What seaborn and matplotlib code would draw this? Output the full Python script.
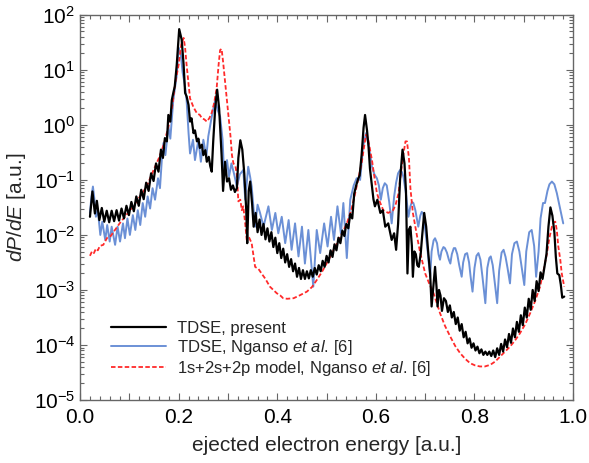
import numpy as np
import pandas as pd
import seaborn as sns
import matplotlib
matplotlib.use("Agg")
import matplotlib.pyplot as plt
from matplotlib.ticker import LogLocator, MultipleLocator, NullFormatter, FuncFormatter

# ---- data: energy (a.u.) and log10(dP/dE) ----
energy_present = [0.020, 0.025, 0.030, 0.034, 0.039, 0.044, 0.049, 0.054, 0.059, 0.064,
                  0.069, 0.074, 0.079, 0.084, 0.089, 0.094, 0.099, 0.104, 0.109, 0.114,
                  0.119, 0.124, 0.129, 0.134, 0.139, 0.144, 0.149, 0.154, 0.159, 0.164,
                  0.168, 0.172, 0.176, 0.179, 0.183, 0.186, 0.189, 0.192, 0.196, 0.201,
                  0.206, 0.210, 0.213, 0.216, 0.220, 0.223, 0.226, 0.230, 0.233, 0.237,
                  0.240, 0.243, 0.247, 0.250, 0.254, 0.257, 0.261, 0.264, 0.267, 0.270,
                  0.274, 0.278, 0.282, 0.285, 0.287, 0.290, 0.294, 0.298, 0.302, 0.306,
                  0.310, 0.314, 0.318, 0.321, 0.325, 0.329, 0.333, 0.337, 0.339, 0.342,
                  0.345, 0.349, 0.352, 0.356, 0.360, 0.364, 0.368, 0.372, 0.376, 0.380,
                  0.384, 0.388, 0.392, 0.396, 0.400, 0.404, 0.408, 0.412, 0.416, 0.420,
                  0.424, 0.428, 0.432, 0.436, 0.440, 0.444, 0.448, 0.452, 0.456, 0.460,
                  0.464, 0.468, 0.472, 0.476, 0.480, 0.484, 0.488, 0.492, 0.496, 0.500,
                  0.504, 0.508, 0.512, 0.516, 0.520, 0.524, 0.528, 0.532, 0.536, 0.540,
                  0.544, 0.548, 0.552, 0.556, 0.560, 0.564, 0.567, 0.571, 0.575, 0.578,
                  0.582, 0.585, 0.588, 0.592, 0.595, 0.598, 0.603, 0.609, 0.614, 0.619,
                  0.625, 0.632, 0.637, 0.641, 0.645, 0.649, 0.654, 0.658, 0.661, 0.664,
                  0.667, 0.670, 0.673, 0.675, 0.678, 0.681, 0.684, 0.687, 0.691, 0.694,
                  0.698, 0.702, 0.706, 0.710, 0.713, 0.716, 0.720, 0.723, 0.725, 0.728,
                  0.731, 0.734, 0.738, 0.742, 0.746, 0.750, 0.754, 0.758, 0.762, 0.766,
                  0.770, 0.774, 0.778, 0.782, 0.786, 0.790, 0.794, 0.798, 0.802, 0.806,
                  0.810, 0.814, 0.818, 0.822, 0.826, 0.830, 0.834, 0.838, 0.842, 0.846,
                  0.850, 0.854, 0.858, 0.862, 0.866, 0.870, 0.874, 0.878, 0.882, 0.886,
                  0.890, 0.894, 0.898, 0.902, 0.906, 0.910, 0.914, 0.918, 0.922, 0.926,
                  0.930, 0.934, 0.938, 0.942, 0.946, 0.950, 0.954, 0.958, 0.962, 0.965,
                  0.968, 0.972, 0.975, 0.978, 0.982]
log_present = [-1.67, -1.21, -1.61, -1.38, -1.73, -1.51, -1.76, -1.56, -1.77, -1.56,
               -1.75, -1.55, -1.74, -1.52, -1.70, -1.47, -1.64, -1.40, -1.57, -1.30,
               -1.47, -1.18, -1.35, -1.05, -1.20, -0.88, -1.02, -0.70, -0.85, -0.45,
               -0.60, -0.24, -0.30, 0.18, 0.06, 0.45, 0.58, 0.70, 1.09, 1.74,
               1.55, 1.09, 0.58, 0.52, 0.36, 0.06, 0.12, -0.15, -0.10, -0.30,
               -0.25, -0.42, -0.36, -0.55, -0.46, -0.67, -0.58, -0.75, -0.85, -0.30,
               0.30, 0.64, 0.30, -0.20, -0.55, -1.20, -0.67, -1.03, -0.97, -1.18,
               -1.10, -1.22, -1.15, -0.60, -0.28, -0.45, -0.88, -1.55, -2.15, -1.20,
               -1.03, -1.45, -1.85, -1.60, -1.95, -1.72, -2.00, -1.80, -2.08, -1.88,
               -2.12, -1.95, -2.22, -2.05, -2.33, -2.15, -2.42, -2.25, -2.50, -2.35,
               -2.58, -2.44, -2.66, -2.52, -2.76, -2.60, -2.80, -2.64, -2.80, -2.66,
               -2.79, -2.64, -2.76, -2.60, -2.72, -2.55, -2.66, -2.47, -2.58, -2.38,
               -2.50, -2.28, -2.40, -2.17, -2.28, -2.05, -2.15, -1.92, -2.02, -1.80,
               -1.88, -1.62, -1.70, -1.25, -1.10, -0.98, -0.92, -0.55, -0.05, 0.18,
               -0.10, -0.39, -0.80, -1.12, -1.35, -1.48, -1.36, -1.60, -1.55, -1.85,
               -1.79, -2.09, -1.97, -2.27, -1.80, -1.00, -0.45, -0.70, -1.20, -2.70,
               -1.90, -1.85, -2.20, -2.76, -2.30, -2.35, -2.55, -2.58, -2.33, -2.00,
               -1.60, -1.85, -2.30, -2.70, -3.30, -3.00, -2.58, -2.95, -3.30, -3.00,
               -3.10, -3.38, -3.15, -3.20, -3.40, -3.28, -3.50, -3.40, -3.62, -3.50,
               -3.74, -3.62, -3.86, -3.76, -3.97, -3.88, -4.05, -3.97, -4.10, -4.03,
               -4.15, -4.08, -4.18, -4.12, -4.18, -4.12, -4.20, -4.10, -4.22, -4.06,
               -4.18, -3.98, -4.12, -3.90, -4.04, -3.80, -3.96, -3.70, -3.86, -3.58,
               -3.76, -3.46, -3.64, -3.32, -3.50, -3.16, -3.36, -3.00, -3.20, -2.84,
               -3.02, -2.68, -2.80, -2.58, -2.35, -1.85, -1.50, -1.65, -1.95, -2.40,
               -2.70, -2.73, -2.90, -3.14, -3.12]

energy_nganso = [0.020, 0.023, 0.026, 0.029, 0.032, 0.036, 0.041, 0.045, 0.051, 0.055,
                 0.060, 0.064, 0.071, 0.076, 0.081, 0.087, 0.091, 0.096, 0.101, 0.107,
                 0.112, 0.117, 0.122, 0.127, 0.132, 0.137, 0.142, 0.147, 0.152, 0.158,
                 0.162, 0.166, 0.169, 0.173, 0.179, 0.183, 0.189, 0.196, 0.200, 0.204,
                 0.208, 0.212, 0.216, 0.220, 0.223, 0.229, 0.233, 0.240, 0.245, 0.250,
                 0.256, 0.260, 0.267, 0.274, 0.279, 0.284, 0.289, 0.292, 0.298, 0.302,
                 0.307, 0.312, 0.318, 0.324, 0.331, 0.335, 0.341, 0.345, 0.348, 0.355,
                 0.360, 0.365, 0.372, 0.382, 0.389, 0.396, 0.402, 0.409, 0.416, 0.423,
                 0.429, 0.436, 0.443, 0.450, 0.456, 0.463, 0.473, 0.480, 0.487, 0.495,
                 0.502, 0.509, 0.515, 0.522, 0.529, 0.534, 0.541, 0.548, 0.555, 0.561,
                 0.568, 0.574, 0.580, 0.586, 0.592, 0.597, 0.602, 0.606, 0.610, 0.614,
                 0.618, 0.622, 0.627, 0.632, 0.637, 0.641, 0.645, 0.649, 0.653, 0.656,
                 0.661, 0.666, 0.670, 0.673, 0.676, 0.680, 0.686, 0.690, 0.693, 0.696,
                 0.700, 0.705, 0.710, 0.713, 0.717, 0.720, 0.724, 0.727, 0.730, 0.733,
                 0.737, 0.740, 0.744, 0.748, 0.751, 0.754, 0.758, 0.761, 0.765, 0.769,
                 0.774, 0.777, 0.781, 0.785, 0.789, 0.792, 0.796, 0.800, 0.804, 0.808,
                 0.812, 0.816, 0.822, 0.826, 0.830, 0.833, 0.837, 0.841, 0.846, 0.850,
                 0.855, 0.859, 0.863, 0.867, 0.872, 0.876, 0.881, 0.886, 0.891, 0.896,
                 0.901, 0.905, 0.911, 0.916, 0.921, 0.925, 0.930, 0.934, 0.939, 0.943,
                 0.948, 0.952, 0.957, 0.962, 0.967, 0.972, 0.976, 0.980]
log_nganso = [-1.60, -1.30, -1.12, -1.35, -1.67, -1.55, -2.00, -1.76, -2.09, -1.82,
              -2.12, -1.85, -2.18, -1.85, -2.12, -1.79, -2.06, -1.70, -2.00, -1.64,
              -1.91, -1.55, -1.82, -1.42, -1.67, -1.30, -1.52, -1.15, -1.36, -0.97,
              -1.15, -0.60, -0.33, -0.55, -0.03, -0.25, 0.45, 0.90, 1.40, 1.30,
              0.95, 0.75, 0.45, -0.15, -0.52, -0.27, -0.64, -0.27, -0.67, -0.27,
              -0.58, -0.21, 0.15, 0.45, 0.27, 0.15, -0.27, -0.88, -0.64, -0.94,
              -0.70, -0.88, -1.12, -0.90, -0.82, -1.36, -0.76, -0.95, -1.12, -1.85,
              -1.45, -1.60, -1.85, -1.48, -1.91, -1.60, -1.97, -1.67, -2.15, -1.73,
              -2.27, -1.79, -2.39, -1.85, -2.52, -1.91, -2.94, -1.91, -2.33, -1.79,
              -2.21, -1.67, -2.09, -1.48, -1.97, -1.42, -2.42, -1.36, -1.10, -0.97,
              -1.00, -0.39, -0.15, -0.40, -0.76, -0.90, -0.97, -1.10, -1.36, -1.15,
              -1.06, -1.10, -1.40, -1.79, -1.30, -1.05, -0.88, -0.82, -0.86, -0.95,
              -1.25, -1.67, -1.48, -1.40, -1.42, -1.55, -1.85, -1.65, -1.58, -1.62,
              -1.90, -2.30, -2.76, -2.30, -2.10, -2.06, -2.15, -2.35, -2.45, -2.30,
              -2.22, -2.24, -2.32, -2.45, -2.52, -2.35, -2.24, -2.24, -2.35, -2.55,
              -2.76, -2.50, -2.35, -2.33, -2.50, -2.75, -3.03, -2.60, -2.38, -2.33,
              -2.45, -2.75, -3.24, -2.60, -2.42, -2.39, -2.55, -2.85, -3.24, -2.65,
              -2.32, -2.27, -2.40, -2.60, -2.88, -2.35, -2.15, -2.12, -2.30, -2.60,
              -2.91, -2.30, -1.95, -1.91, -2.20, -2.76, -2.30, -1.70, -1.42, -1.42,
              -1.20, -1.08, -1.03, -1.08, -1.24, -1.45, -1.62, -1.79]

energy_model = [0.020, 0.024, 0.028, 0.032, 0.036, 0.040, 0.047, 0.055, 0.062, 0.070,
                0.081, 0.090, 0.100, 0.108, 0.120, 0.135, 0.149, 0.160, 0.170, 0.180,
                0.187, 0.193, 0.200, 0.205, 0.210, 0.213, 0.216, 0.220, 0.223, 0.230,
                0.237, 0.243, 0.247, 0.252, 0.257, 0.262, 0.267, 0.272, 0.277, 0.281,
                0.284, 0.287, 0.290, 0.294, 0.298, 0.301, 0.305, 0.308, 0.311, 0.315,
                0.318, 0.321, 0.325, 0.328, 0.331, 0.335, 0.338, 0.343, 0.348, 0.352,
                0.355, 0.362, 0.368, 0.376, 0.385, 0.392, 0.399, 0.406, 0.412, 0.420,
                0.433, 0.445, 0.460, 0.470, 0.480, 0.490, 0.500, 0.510, 0.521, 0.531,
                0.541, 0.550, 0.558, 0.565, 0.571, 0.576, 0.580, 0.584, 0.588, 0.592,
                0.597, 0.602, 0.608, 0.615, 0.625, 0.635, 0.640, 0.646, 0.651, 0.656,
                0.660, 0.663, 0.667, 0.670, 0.675, 0.680, 0.685, 0.690, 0.700, 0.708,
                0.717, 0.724, 0.730, 0.740, 0.751, 0.761, 0.771, 0.781, 0.791, 0.801,
                0.811, 0.821, 0.832, 0.842, 0.852, 0.862, 0.872, 0.882, 0.892, 0.903,
                0.913, 0.923, 0.933, 0.940, 0.947, 0.952, 0.957, 0.961, 0.964, 0.967,
                0.970, 0.974, 0.977, 0.982]
log_model = [-2.38, -2.30, -2.33, -2.25, -2.28, -2.20, -2.18, -2.05, -2.02, -1.92,
             -1.78, -1.68, -1.57, -1.48, -1.32, -1.12, -0.82, -0.60, -0.35, 0.00,
             0.35, 0.76, 1.10, 1.45, 1.58, 1.40, 1.09, 0.75, 0.48, 0.32,
             0.21, 0.18, 0.12, 0.10, 0.06, 0.12, 0.22, 0.40, 0.67, 1.10,
             1.36, 1.38, 1.15, 0.79, 0.45, 0.18, -0.20, -0.55, -0.70, -0.75,
             -0.91, -1.39, -1.36, -1.55, -1.48, -1.80, -2.09, -2.05, -2.15, -2.40,
             -2.58, -2.62, -2.70, -2.80, -2.94, -3.00, -3.06, -3.10, -3.15, -3.16,
             -3.15, -3.10, -3.03, -2.95, -2.82, -2.68, -2.52, -2.35, -2.15, -1.98,
             -1.79, -1.55, -1.24, -0.95, -0.70, -0.40, -0.18, -0.25, -0.45, -0.64,
             -0.95, -1.24, -1.40, -1.55, -1.60, -1.55, -1.45, -1.24, -0.85, -0.52,
             -0.30, -0.30, -0.60, -1.15, -1.60, -1.85, -2.10, -2.33, -2.70, -2.88,
             -3.06, -3.25, -3.42, -3.65, -3.85, -4.02, -4.15, -4.25, -4.33, -4.37,
             -4.39, -4.39, -4.36, -4.30, -4.21, -4.12, -4.03, -3.92, -3.79, -3.62,
             -3.42, -3.20, -2.94, -2.65, -2.33, -2.05, -1.85, -1.77, -1.76, -1.92,
             -2.21, -2.45, -2.70, -2.94]

labels = ["TDSE, present",
          r"TDSE, Nganso $\mathit{et\ al}$. [6]",
          r"1s+2s+2p model, Nganso $\mathit{et\ al}$. [6]"]

sns.set_style("ticks")
plt.rcParams['font.family'] = ['Liberation Sans', 'DejaVu Sans']
plt.rcParams['mathtext.fontset'] = 'custom'
plt.rcParams['mathtext.rm'] = 'Liberation Sans'
plt.rcParams['mathtext.it'] = 'Liberation Sans:italic'
plt.rcParams['mathtext.bf'] = 'Liberation Sans:bold'

df_present = pd.DataFrame({"energy": energy_present, "dPdE": 10 ** np.array(log_present)})
df_nganso = pd.DataFrame({"energy": energy_nganso, "dPdE": 10 ** np.array(log_nganso)})
df_model = pd.DataFrame({"energy": energy_model, "dPdE": 10 ** np.array(log_model)})

fig, ax = plt.subplots(figsize=(5.89, 4.63), dpi=100)
fig.subplots_adjust(left=0.136, right=0.973, top=0.968, bottom=0.136)

sns.lineplot(data=df_nganso, x="energy", y="dPdE", ax=ax, color="#6b90d6", lw=1.4,
             estimator=None, sort=False, zorder=2)
line_nganso = ax.get_lines()[-1]
sns.lineplot(data=df_model, x="energy", y="dPdE", ax=ax, color="#ff2a2a", lw=1.3,
             linestyle=(0, (2.5, 1.3)), estimator=None, sort=False, zorder=3)
line_model = ax.get_lines()[-1]
sns.lineplot(data=df_present, x="energy", y="dPdE", ax=ax, color="black", lw=1.6,
             estimator=None, sort=False, zorder=4)
line_present = ax.get_lines()[-1]

ax.set_yscale("log")
ax.set_xlim(0, 1.0)
ax.set_ylim(1e-5, 1e2)
ax.xaxis.set_major_locator(MultipleLocator(0.1))
ax.xaxis.set_minor_locator(MultipleLocator(0.02))


def xfmt(v, pos):
    k = int(round(v * 10))
    return f"{v:.1f}" if k % 2 == 0 else ""


ax.xaxis.set_major_formatter(FuncFormatter(xfmt))
ax.yaxis.set_major_locator(LogLocator(base=10, numticks=20))
ax.yaxis.set_minor_locator(LogLocator(base=10, subs=np.arange(2, 10), numticks=20))
ax.yaxis.set_minor_formatter(NullFormatter())

for s in ax.spines.values():
    s.set_color("#666666")
    s.set_linewidth(1.0)
ax.tick_params(which="both", direction="in", top=True, right=True, color="#666666",
               labelsize=15, labelcolor="black")
ax.tick_params(which="major", length=5, width=0.8)
ax.tick_params(which="minor", length=3, width=0.8)
ax.tick_params(axis="x", pad=6)

ax.set_xlabel("ejected electron energy [a.u.]", fontsize=15, labelpad=6)
ax.set_ylabel(r"$dP/dE$ [a.u.]", fontsize=15, labelpad=4)

ax.legend([line_present, line_nganso, line_model], labels, loc="lower left",
          bbox_to_anchor=(0.045, 0.035), frameon=False, fontsize=12,
          handlelength=3.3, handletextpad=0.7, labelspacing=0.12, borderpad=0)

fig.savefig("out.png", dpi=100)
